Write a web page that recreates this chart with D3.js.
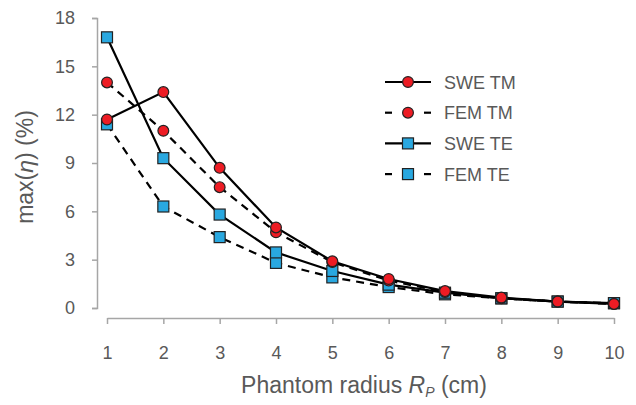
<!DOCTYPE html>
<html>
<head>
<meta charset="utf-8">
<script src="https://cdn.jsdelivr.net/npm/d3@7"></script>
<style>
  body { margin: 0; background: #fff; }
  text { font-family: "Liberation Sans", Arial, sans-serif; fill: #595959; }
</style>
</head>
<body>
<div class="chart"></div>
<script>
const radius = [1, 2, 3, 4, 5, 6, 7, 8, 9, 10];
const sweTM = [11.7, 13.4, 8.7, 5.0, 2.9, 1.8, 1.05, 0.65, 0.4, 0.25];
const femTM = [14.0, 11.0, 7.5, 4.7, 2.85, 1.7, 1.0, 0.6, 0.4, 0.25];
const sweTE = [16.8, 9.3, 5.8, 3.45, 2.3, 1.45, 0.95, 0.6, 0.4, 0.3];
const femTE = [11.4, 6.3, 4.4, 2.8, 1.9, 1.3, 0.85, 0.6, 0.4, 0.3];
const yTicks = [0, 3, 6, 9, 12, 15, 18];

const series = [
  { name: 'SWE TM', values: sweTM, dash: null, shape: 'circle' },
  { name: 'FEM TM', values: femTM, dash: '8,6', shape: 'circle' },
  { name: 'SWE TE', values: sweTE, dash: null, shape: 'square' },
  { name: 'FEM TE', values: femTE, dash: '8,6', shape: 'square' }
];

const width = 636;
const height = 405;

const x = d3.scaleLinear().domain([1, 10]).range([107, 614]);
const y = d3.scaleLinear().domain([0, 18]).range([308, 18]);

const svg = d3.select('.chart').append('svg')
  .attr('width', width)
  .attr('height', height);

// y axis
const yAxis = svg.append('g')
  .attr('transform', 'translate(97,0)')
  .call(d3.axisLeft(y).tickValues(yTicks).tickSize(5).tickPadding(17));
yAxis.select('.domain').attr('stroke', '#a6a6a6').attr('stroke-width', 1.5);
yAxis.selectAll('.tick line').attr('stroke', '#a6a6a6').attr('stroke-width', 1.5);
yAxis.selectAll('text').attr('font-size', 18).attr('fill', '#595959');

// x axis
const xAxis = svg.append('g')
  .attr('transform', 'translate(0,318)')
  .call(d3.axisBottom(x).tickValues(radius).tickSize(6).tickPadding(22).tickSizeOuter(0));
xAxis.select('.domain').attr('stroke', '#a6a6a6').attr('stroke-width', 1.5);
xAxis.selectAll('.tick line').attr('stroke', '#a6a6a6').attr('stroke-width', 1.5);
xAxis.selectAll('text').attr('font-size', 18).attr('fill', '#595959');

// axis titles
const xt = svg.append('text')
  .attr('x', 364).attr('y', 393)
  .attr('text-anchor', 'middle')
  .attr('font-size', 23);
xt.append('tspan').text('Phantom radius ');
xt.append('tspan').attr('font-style', 'italic').text('R');
xt.append('tspan').attr('font-style', 'italic').attr('font-size', 14).attr('dy', 4).text('P');
xt.append('tspan').attr('dy', -4).text(' (cm)');

const yt = svg.append('text')
  .attr('transform', 'translate(33,167) rotate(-90)')
  .attr('text-anchor', 'middle')
  .attr('font-size', 23);
yt.append('tspan').text('max(');
yt.append('tspan').attr('font-style', 'italic').text('η');
yt.append('tspan').text(') (%)');

const line = d3.line()
  .x((d, i) => x(radius[i]))
  .y(d => y(d));

function drawMarker(g, shape, cx, cy) {
  if (shape === 'circle') {
    g.append('circle')
      .attr('cx', cx).attr('cy', cy).attr('r', 5.4)
      .attr('fill', '#ed1c24').attr('stroke', '#222').attr('stroke-width', 1.2);
  } else {
    g.append('rect')
      .attr('x', cx - 5.5).attr('y', cy - 5.5)
      .attr('width', 11).attr('height', 11)
      .attr('fill', '#29a8e0').attr('stroke', '#222').attr('stroke-width', 1.2);
  }
}

// lines
series.forEach(s => {
  svg.append('path')
    .datum(s.values)
    .attr('d', line)
    .attr('fill', 'none')
    .attr('stroke', '#000')
    .attr('stroke-width', 2.2)
    .attr('stroke-dasharray', s.dash);
});

// markers (TE under TM)
[series[3], series[2], series[1], series[0]].forEach(s => {
  const g = svg.append('g');
  s.values.forEach((v, i) => drawMarker(g, s.shape, x(radius[i]), y(v)));
});

// legend
const legend = svg.append('g');
series.forEach((s, i) => {
  const ly = 82 + i * 30.7;
  if (s.dash) {
    [[385, 392], [424, 431]].forEach(([a, b]) => {
      legend.append('line')
        .attr('x1', a).attr('x2', b).attr('y1', ly).attr('y2', ly)
        .attr('stroke', '#000').attr('stroke-width', 2.2);
    });
  } else {
    legend.append('line')
      .attr('x1', 385).attr('x2', 431)
      .attr('y1', ly).attr('y2', ly)
      .attr('stroke', '#000').attr('stroke-width', 2.2);
  }
  drawMarker(legend, s.shape, 408, ly);
  legend.append('text')
    .attr('x', 444).attr('y', ly + 6.5)
    .attr('font-size', 18)
    .text(s.name);
});
</script>
</body>
</html>
